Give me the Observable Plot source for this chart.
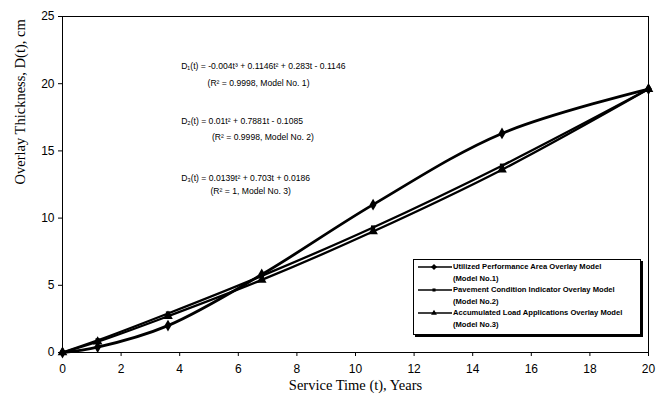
<!DOCTYPE html>
<html><head><meta charset="utf-8">
<script src="https://cdn.jsdelivr.net/npm/d3@7"></script>
<script src="https://cdn.jsdelivr.net/npm/@observablehq/plot@0.6"></script>
<style>
body{margin:0;background:#fff}
#wrap{position:relative;width:663px;height:402px}
#legend{position:absolute;left:413px;top:259px;width:226px;height:73px;border:1.5px solid #000;box-shadow:2px 2px 0 #000;background:#fff;font-family:"Liberation Sans",Arial,sans-serif;font-weight:bold;font-size:7.6px;line-height:11.6px;padding-top:1px}
.row{display:flex;align-items:flex-start}
.row svg{flex:none;margin-left:4px}
.sub{padding-left:39px}
</style>
</head><body><div id="wrap"></div>
<script>
const years = [0, 1.2, 3.6, 6.8, 10.6, 15, 20];
const model1 = [0, 0.4, 2.0, 5.8, 11.0, 16.3, 19.6];
const model2 = [0, 0.9, 2.9, 5.7, 9.3, 13.9, 19.6];
const model3 = [0, 0.8, 2.7, 5.4, 9.0, 13.6, 19.6];
const seriesNames = [
  "Utilized Performance Area Overlay Model|(Model No.1)",
  "Pavement Condition Indicator Overlay Model|(Model No.2)",
  "Accumulated Load Applications Overlay Model|(Model No.3)"
];
const xTicks = [0, 2, 4, 6, 8, 10, 12, 14, 16, 18, 20];
const yTicks = [0, 5, 10, 15, 20, 25];
const equations = [
  "D\u2081(t) = -0.004t\u00b3 + 0.1146t\u00b2 + 0.283t - 0.1146",
  "(R\u00b2 = 0.9998, Model No. 1)",
  "D\u2082(t) = 0.01t\u00b2 + 0.7881t - 0.1085",
  "(R\u00b2 = 0.9998, Model No. 2)",
  "D\u2083(t) = 0.0139t\u00b2 + 0.703t + 0.0186",
  "(R\u00b2 = 1, Model No. 3)"
];
const xTitle = "Service Time (t), Years";
const yTitle = "Overlay Thickness, D(t), cm";

const symbols = ["diamond", "square", "triangle"];
const sizes = [3.6, 2.4, 3.6];
const widths = [2.8, 2.3, 2.3];
const models = [model1, model2, model3];
const rows = models.flatMap((m, i) => years.map((t, j) => ({t, d: m[j], s: i})));

// equation annotation anchors (t, D) in data units
const eqPos = [[4.05, 21.3], [4.95, 20.05], [4.05, 17.2], [5.1, 16.05], [4.05, 13.0], [5.05, 12.0]];
const eqRows = equations.map((txt, i) => ({txt, x: eqPos[i][0], y: eqPos[i][1]}));

const chart = Plot.plot({
  width: 663, height: 402,
  marginLeft: 62, marginRight: 15, marginTop: 16, marginBottom: 50,
  style: {fontFamily: "'Liberation Sans', Arial, sans-serif", fontSize: "12px", background: "#fff"},
  x: {domain: [0, 20]},
  y: {domain: [0, 25]},
  marks: [
    Plot.frame({stroke: "#000", strokeWidth: 1}),
    ...models.map((m, i) => Plot.line(rows.filter(r => r.s === i), {x: "t", y: "d", stroke: "#000", strokeWidth: widths[i], curve: "catmull-rom"})),
    ...models.map((m, i) => Plot.dot(rows.filter(r => r.s === i), {x: "t", y: "d", symbol: () => symbols[i], fill: "#000", r: sizes[i]})),
    Plot.axisX({ticks: xTicks, tickSize: 4, tickPadding: 8, label: null, fontSize: 12}),
    Plot.axisY({ticks: yTicks, tickSize: 4, tickPadding: 4, label: null, fontSize: 12}),
    Plot.text(eqRows, {x: "x", y: "y", text: "txt", textAnchor: "start", fontSize: 8.6, fill: "#000"}),
    Plot.text([xTitle], {frameAnchor: "bottom", dy: 37, fontFamily: "'Liberation Serif', 'Times New Roman', serif", fontSize: 14.5, fill: "#000"}),
    Plot.text([yTitle], {frameAnchor: "left", dx: -42, rotate: -90, fontFamily: "'Liberation Serif', 'Times New Roman', serif", fontSize: 14.5, fill: "#000"})
  ]
});
const wrap = document.getElementById("wrap");
wrap.appendChild(chart);

const legend = document.createElement("div");
legend.id = "legend";
seriesNames.forEach((name, i) => {
  const [a, b] = name.split("|");
  const row = document.createElement("div");
  row.className = "row";
  const svg = d3.create("svg").attr("width", 34).attr("height", 11);
  svg.append("line").attr("x1", 0).attr("x2", 34).attr("y1", 6).attr("y2", 6).attr("stroke", "#000").attr("stroke-width", 1.6);
  const sym = {diamond: d3.symbolDiamond2, square: d3.symbolSquare2, triangle: d3.symbolTriangle2}[symbols[i]];
  svg.append("path").attr("d", d3.symbol(sym, i === 1 ? 12 : 24)()).attr("transform", "translate(16,6)").attr("fill", "#000");
  row.appendChild(svg.node());
  const span = document.createElement("span");
  span.textContent = a;
  span.style.marginLeft = "1px";
  row.appendChild(span);
  legend.appendChild(row);
  const sub = document.createElement("div");
  sub.className = "sub";
  sub.textContent = b;
  legend.appendChild(sub);
});
wrap.appendChild(legend);
</script></body></html>
